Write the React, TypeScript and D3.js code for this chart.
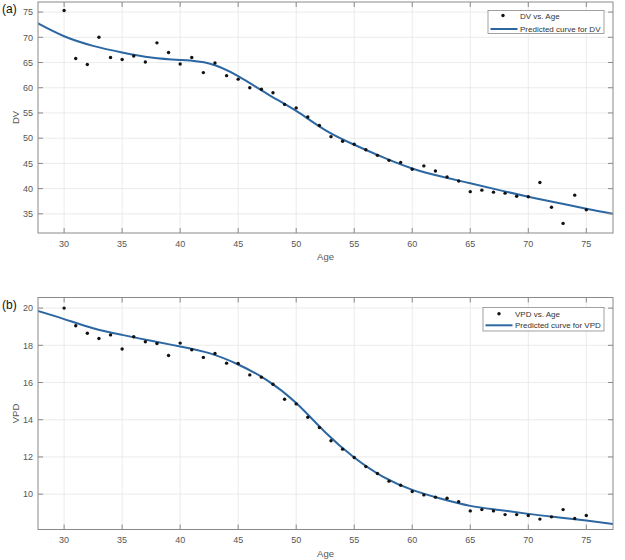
import React from "react";
import * as d3 from "d3";

const ages = d3.range(30, 76);
const dvValues = [75.3, 65.8, 64.6, 70.0, 66.0, 65.6, 66.3, 65.1, 68.9, 67.0, 64.7, 66.0, 63.0, 64.9, 62.4, 61.7, 60.0, 59.7, 59.0, 56.7, 56.0, 54.2, 52.5, 50.3, 49.4, 48.8, 47.7, 46.6, 45.6, 45.2, 43.85, 44.5, 43.5, 42.3, 41.5, 39.4, 39.7, 39.3, 39.1, 38.5, 38.4, 41.2, 36.3, 33.1, 38.7, 35.8];
const vpdValues = [20.0, 19.05, 18.65, 18.37, 18.56, 17.8, 18.46, 18.19, 18.1, 17.45, 18.12, 17.76, 17.35, 17.56, 17.04, 17.02, 16.41, 16.29, 15.91, 15.1, 14.85, 14.13, 13.58, 12.87, 12.42, 11.97, 11.48, 11.11, 10.7, 10.48, 10.14, 9.96, 9.84, 9.78, 9.59, 9.1, 9.17, 9.1, 8.9, 8.9, 8.85, 8.66, 8.78, 9.17, 8.69, 8.85];

const curveAges = [27.7, 30, 32.5, 35, 37.5, 40, 42.5, 45, 47.5, 50, 52.5, 55, 57.5, 60, 62.5, 65, 67.5, 70, 72.5, 75, 77.3];
const dvCurve = [72.8, 70.2, 68.3, 67.0, 66.0, 65.5, 64.8, 62.3, 58.8, 55.4, 51.6, 48.7, 46.2, 44.0, 42.4, 41.05, 39.7, 38.4, 37.2, 36.0, 35.0];
const vpdCurve = [19.85, 19.41, 18.92, 18.56, 18.24, 17.94, 17.58, 16.97, 16.12, 14.9, 13.33, 11.97, 10.93, 10.23, 9.75, 9.37, 9.15, 8.94, 8.76, 8.58, 8.4];

const xTicks = [30, 35, 40, 45, 50, 55, 60, 65, 70, 75];
const dvTicks = [35, 40, 45, 50, 55, 60, 65, 70, 75];
const vpdTicks = [10, 12, 14, 16, 18, 20];

const FONT = "'Liberation Sans', Arial, sans-serif";
const LINE = "#2c67a2";

type PanelProps = {
  top: number; bottom: number; yDomain: [number, number]; yTicks: number[];
  values: number[]; curve: number[]; yLabel: string; tag: string;
  legendPoints: string; legendCurve: string;
  legendBox: { x0: number; x1: number; y0: number; y1: number; r1: number; r2: number };
};

function Panel(p: PanelProps) {
  const left = 38, right = 613;
  const x = d3.scaleLinear().domain([27.75, 77.3]).range([left, right]);
  const y = d3.scaleLinear().domain(p.yDomain).range([p.bottom, p.top]);
  const line = d3.line<number>().x((_, i) => x(curveAges[i])).y((d) => y(d)).curve(d3.curveNatural);
  const tl = 5;
  const lb = p.legendBox;
  return (
    <g fontFamily={FONT}>
      <defs>
        <clipPath id={"clip" + p.tag}>
          <rect x={left} y={p.top} width={right - left} height={p.bottom - p.top} />
        </clipPath>
      </defs>
      {xTicks.map((t) => (
        <line key={"gx" + t} x1={x(t)} x2={x(t)} y1={p.top} y2={p.bottom} stroke="#e6e6e6" strokeWidth={0.8} />
      ))}
      {p.yTicks.map((t) => (
        <line key={"gy" + t} x1={left} x2={right} y1={y(t)} y2={y(t)} stroke="#e6e6e6" strokeWidth={0.8} />
      ))}
      <g clipPath={`url(#clip${p.tag})`}>
        <path d={line(p.curve) || ""} fill="none" stroke={LINE} strokeWidth={2} />
      </g>
      {p.values.map((v, i) => (
        <circle key={"pt" + i} cx={x(ages[i])} cy={y(v)} r={1.7} fill="#111" />
      ))}
      <rect x={left} y={p.top} width={right - left} height={p.bottom - p.top} fill="none" stroke="#8a8a8a" strokeWidth={1} />
      {xTicks.map((t) => (
        <g key={"tx" + t}>
          <line x1={x(t)} x2={x(t)} y1={p.bottom} y2={p.bottom - tl} stroke="#8a8a8a" />
          <line x1={x(t)} x2={x(t)} y1={p.top} y2={p.top + tl} stroke="#8a8a8a" />
          <text x={x(t)} y={p.bottom + 13.5} textAnchor="middle" fontSize={9} fill="#555">{t}</text>
        </g>
      ))}
      {p.yTicks.map((t) => (
        <g key={"ty" + t}>
          <line x1={left} x2={left + tl} y1={y(t)} y2={y(t)} stroke="#8a8a8a" />
          <line x1={right} x2={right - tl} y1={y(t)} y2={y(t)} stroke="#8a8a8a" />
          <text x={left - 5} y={y(t) + 3.2} textAnchor="end" fontSize={9} fill="#555">{t}</text>
        </g>
      ))}
      <text x={(left + right) / 2} y={p.bottom + 27} textAnchor="middle" fontSize={9.5} fill="#555">Age</text>
      <text transform={`translate(19,${(p.top + p.bottom) / 2}) rotate(-90)`} textAnchor="middle" fontSize={9.5} fill="#555">{p.yLabel}</text>
      <text x={2} y={p.top + 11} fontSize={12} fill="#111">{"(" + p.tag + ")"}</text>
      <rect x={lb.x0} y={lb.y0} width={lb.x1 - lb.x0} height={lb.y1 - lb.y0} fill="#fff" stroke="#8a8a8a" strokeWidth={0.8} />
      <circle cx={lb.x0 + (p.tag === "a" ? 15 : 16)} cy={lb.r1} r={1.7} fill="#111" />
      <line x1={lb.x0 + 2.5} x2={lb.x0 + 29.5} y1={lb.r2} y2={lb.r2} stroke={LINE} strokeWidth={2} />
      <text x={lb.x0 + 32} y={lb.r1 + 3} fontSize={8} fill="#333">{p.legendPoints}</text>
      <text x={lb.x0 + 32} y={lb.r2 + 3} fontSize={8} fill="#333">{p.legendCurve}</text>
    </g>
  );
}

export default function App() {
  return (
    <svg width={625} height={560} style={{ position: "absolute", left: 0, top: 0, background: "#fff" }}>
      <rect width={625} height={560} fill="#fff" />
      <Panel top={2} bottom={233} yDomain={[31.2, 77]} yTicks={dvTicks} values={dvValues} curve={dvCurve}
        yLabel="DV" tag="a" legendPoints="DV vs. Age" legendCurve="Predicted curve for DV"
        legendBox={{ x0: 488, x1: 604, y0: 10.5, y1: 33.5, r1: 15.5, r2: 29 }} />
      <Panel top={297.5} bottom={529.5} yDomain={[8.1, 20.57]} yTicks={vpdTicks} values={vpdValues} curve={vpdCurve}
        yLabel="VPD" tag="b" legendPoints="VPD vs. Age" legendCurve="Predicted curve for VPD"
        legendBox={{ x0: 483, x1: 604, y0: 307.5, y1: 331, r1: 313.7, r2: 325.3 }} />
    </svg>
  );
}
